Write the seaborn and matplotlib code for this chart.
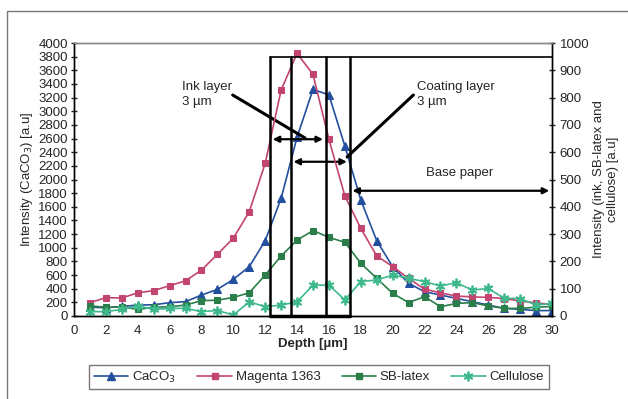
import numpy as np
import matplotlib
matplotlib.use("Agg")
import matplotlib.pyplot as plt
import seaborn as sns
from matplotlib.lines import Line2D
from matplotlib.patches import Rectangle

# depth in micrometres
depth = list(range(1, 31))

# CaCO3 intensity (left axis)
caco3 = [130, 120, 140, 160, 165, 195, 210, 307, 390, 537, 723, 1103, 1724, 2620,
         3320, 3240, 2490, 1700, 1103, 722, 479, 356, 307, 259, 210, 161, 112, 98, 78, 80]
# right axis series
magenta = [49, 67, 66, 85, 93, 111, 129, 168, 226, 285, 382, 559, 828, 962,
           885, 647, 440, 321, 220, 181, 138, 98, 85, 73, 70, 68, 64, 55, 48, 42]
sb_latex = [37, 32, 34, 24, 32, 34, 40, 56, 58, 68, 85, 150, 220, 278,
            313, 288, 270, 193, 138, 83, 49, 71, 34, 46, 49, 37, 28, 28, 32, 35]
cellulose = [16, 16, 24, 37, 24, 28, 28, 16, 20, 4, 52, 34, 40, 52,
             113, 113, 59, 126, 132, 150, 138, 126, 110, 122, 95, 101, 65, 64, 40, 46]

layer_lines = [12.3, 13.6, 15.8, 17.3]
box_top = 950

c_blue = '#234f9e'
c_mag = '#c24470'
c_dgreen = '#2b7d4a'
c_lgreen = '#3fb98c'
star = (6, 2, 0)

sns.set_style('white')
plt.rcParams['font.family'] = ['Liberation Sans', 'DejaVu Sans']

fig = plt.figure(figsize=(6.28, 3.99), dpi=100)
ax = fig.add_axes([74 / 628, 1 - 316 / 399, (552 - 74) / 628, (316 - 43) / 399])
ax2 = ax.twinx()

lw = 1.2
sns.lineplot(x=depth, y=caco3, ax=ax, color=c_blue, marker='^', markersize=6,
             markeredgecolor=c_blue, linewidth=lw, linestyle='-', legend=False)
sns.lineplot(x=depth, y=magenta, ax=ax2, color=c_mag, marker='s', markersize=5,
             markeredgecolor=c_mag, linewidth=lw, linestyle='-', legend=False)
sns.lineplot(x=depth, y=sb_latex, ax=ax2, color=c_dgreen, marker='s', markersize=5,
             markeredgecolor=c_dgreen, linewidth=lw, linestyle='-', legend=False)
sns.lineplot(x=depth, y=cellulose, ax=ax2, color=c_lgreen, marker=star, markersize=7,
             markeredgecolor=c_lgreen, markeredgewidth=1.3, linewidth=lw, linestyle='-',
             legend=False)

ax.set_xlim(0, 30)
ax.set_ylim(0, 4000)
ax2.set_ylim(0, 1000)
ax.set_xticks(range(0, 31, 2))
ax.set_yticks(range(0, 4001, 200))
ax2.set_yticks(range(0, 1001, 100))

fs = 9.5
ax.tick_params(axis='both', direction='inout', length=5, width=1, labelsize=fs, pad=2)
ax2.tick_params(axis='y', direction='inout', length=5, width=1, labelsize=fs, pad=3)
ax.tick_params(axis='x', pad=4)

for a in (ax, ax2):
    for s in a.spines.values():
        s.set_linewidth(1)
        s.set_color('black')
    a.spines['top'].set_color('#888888')

ax.set_xlabel('Depth [µm]', fontsize=fs, fontweight='bold', labelpad=1)
ax.set_ylabel('Intensity (CaCO$_3$) [a.u]', fontsize=fs, labelpad=2)
ax2.set_ylabel('Intensity (ink, SB-latex and\ncellulose) [a.u]', fontsize=fs, labelpad=3)

# layer boxes (drawn on right axis scale)
for xv in layer_lines:
    ax2.plot([xv, xv], [0, box_top], color='black', lw=1.8, zorder=5)
ax2.plot([layer_lines[0], 30], [box_top, box_top], color='black', lw=1.2, zorder=5)
ax2.plot([layer_lines[0], layer_lines[-1]], [0, 0], color='black', lw=2.5, zorder=5, clip_on=False)

# arrows (left axis scale)
arr = dict(arrowstyle='<|-|>', color='black', lw=1.6, mutation_scale=9)
ax.annotate('', xy=(layer_lines[0], 2590), xytext=(layer_lines[2], 2590), arrowprops=arr, zorder=6)
ax.annotate('', xy=(layer_lines[1], 2260), xytext=(layer_lines[3], 2260), arrowprops=arr, zorder=6)
ax.annotate('', xy=(layer_lines[3], 1835), xytext=(30, 1835), arrowprops=arr, zorder=6)

# labels with leader lines
ax.text(6.75, 3250, 'Ink layer\n3 µm', fontsize=fs, va='center', ha='left', linespacing=1.3)
ax.plot([9.96, 14.5], [3238, 2608], color='black', lw=2.2, zorder=6)
ax.text(21.55, 3250, 'Coating layer\n3 µm', fontsize=fs, va='center', ha='left', linespacing=1.3)
ax.plot([21.3, 17.14], [3238, 2330], color='black', lw=2.2, zorder=6)
ax.text(24.2, 2095, 'Base paper', fontsize=fs, va='center', ha='center')

# legend
handles = [
    Line2D([], [], color=c_blue, marker='^', markersize=6, lw=lw),
    Line2D([], [], color=c_mag, marker='s', markersize=5, lw=lw),
    Line2D([], [], color=c_dgreen, marker='s', markersize=5, lw=lw),
    Line2D([], [], color=c_lgreen, marker=star, markersize=7, markeredgewidth=1.3, lw=lw),
]
labels = ['CaCO$_3$', 'Magenta 1363', 'SB-latex', 'Cellulose']
leg = fig.legend(handles, labels, loc='center', bbox_to_anchor=(319 / 628, 1 - 377 / 399),
                 ncol=4, fontsize=fs, frameon=True, fancybox=False, edgecolor='#555555',
                 handlelength=2.6, columnspacing=1.6, handletextpad=0.3, borderpad=0.35)
leg.get_frame().set_linewidth(1)

# outer chart border
fig.patches.append(Rectangle((7 / 628, -0.02), 1.0, 1 - 11 / 399 + 0.02, transform=fig.transFigure,
                             fill=False, edgecolor='#777777', lw=1))

fig.savefig('out.png', dpi=100)
